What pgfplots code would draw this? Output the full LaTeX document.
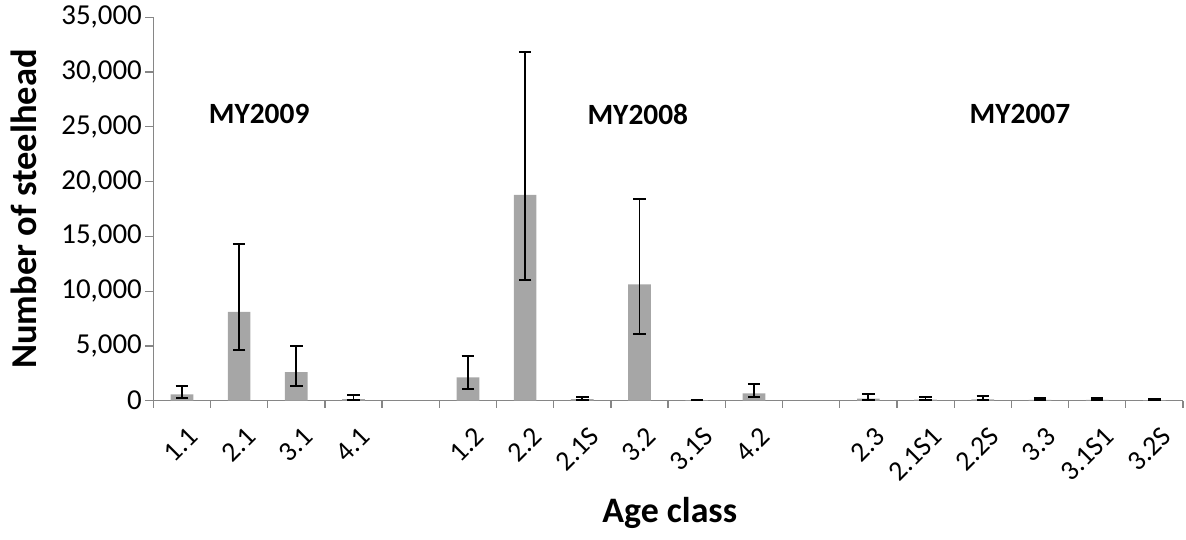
\documentclass[border=0pt]{standalone}
\usepackage{pgfplots}
\pgfplotsset{compat=1.18}
\usepackage{pgfplotstable}
\usepackage{fontspec}
\setmainfont{Carlito}
\definecolor{bargray}{HTML}{A6A6A6}
\definecolor{axisgray}{HTML}{868686}
\pgfplotstableread{
x y ep em
0 580 760 310
1 8120 6180 3520
2 2620 2370 1250
3 150 400 120
5 2130 1950 1030
6 18780 13080 7790
7 150 180 90
8 10620 7790 4530
9 50 60 30
10 670 830 360
12 180 430 130
13 100 270 60
14 120 340 80
15 80 170 50
16 80 170 50
17 50 80 30
}\datatable
\begin{document}
\begin{tikzpicture}
\path[use as bounding box] (-153.3bp,-139.3bp) rectangle (1032.7bp,400.7bp);
\begin{axis}[
  at={(0,0)}, anchor=south west,
  scale only axis, width=1029.7bp, height=383.4bp,
  xmin=-0.5, xmax=17.5, ymin=0, ymax=35000,
  ybar, bar width=22.7bp,
  axis x line*=bottom, axis y line*=left,
  axis line style={draw=axisgray, line width=1.3bp},
  xtick={0,1,2,3,5,6,7,8,9,10,12,13,14,15,16,17},
  xticklabels={1.1,2.1,3.1,4.1,1.2,2.2,2.1S,3.2,3.1S,4.2,2.3,2.1S1,2.2S,3.3,3.1S1,3.2S},
  major x tick style={draw=none},
  minor xtick={-0.5,0.5,...,17.5},
  minor tick length=7bp,
  minor x tick style={draw=axisgray, line width=1.3bp},
  ytick={0,5000,...,35000},
  yticklabels={0,{5,000},{10,000},{15,000},{20,000},{25,000},{30,000},{35,000}},
  major tick length=8bp,
  major y tick style={draw=axisgray, line width=1.3bp},
  tick align=outside,
  scaled y ticks=false,
  xticklabel style={font=\fontsize{28}{30}\selectfont, rotate=45, anchor=east, xshift=-5bp, yshift=-25bp},
  yticklabel style={font=\fontsize{29}{30}\selectfont, xshift=0bp},
  clip=false,
]
\addplot[fill=bargray, draw=none,
  error bars/.cd, y dir=both, y explicit,
  error bar style={line width=1.8bp, black},
  error mark options={line width=1.8bp, mark size=6.2bp, black, rotate=90}]
  table[x=x, y=y, y error plus=ep, y error minus=em]{\datatable};
\node[font=\bfseries\fontsize{29.5}{31}\selectfont] at (axis cs:1.35,26170) {MY2009};
\node[font=\bfseries\fontsize{29.5}{31}\selectfont] at (axis cs:7.97,26170) {MY2008};
\node[font=\bfseries\fontsize{29.5}{31}\selectfont] at (axis cs:14.65,26170) {MY2007};
\end{axis}
\node[font=\bfseries\fontsize{36.6}{38}\selectfont, rotate=90, anchor=base] at (-117bp,191.7bp) {Number of steelhead};
\node[font=\bfseries\fontsize{36}{38}\selectfont, anchor=base] at (516.5bp,-121.3bp) {Age class};
\end{tikzpicture}
\end{document}
